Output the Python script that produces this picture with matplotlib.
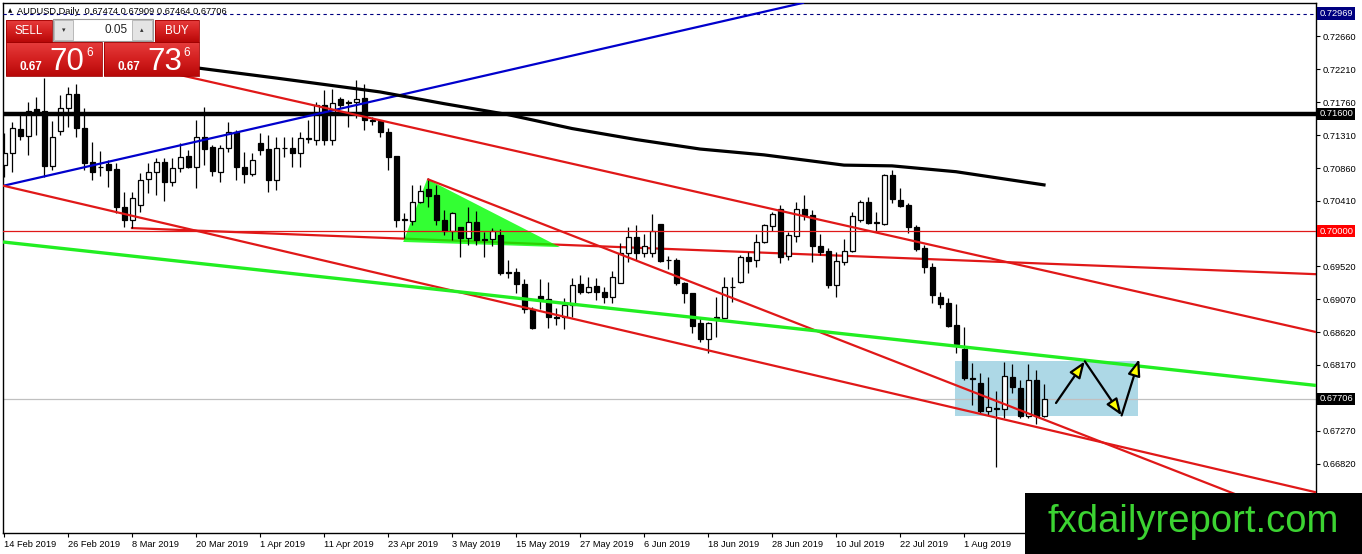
#AUDUSD daily chart with trend lines, recreated in matplotlib
import numpy as np
import matplotlib
matplotlib.use("Agg")
import matplotlib.pyplot as plt
from matplotlib.patches import Rectangle, Polygon
from matplotlib.colors import LinearSegmentedColormap
import matplotlib.transforms as mtransforms

#%%
# Daily candles, bar 0 = 14 Feb 2019
opens = [0.7090, 0.7107, 0.7139, 0.7130, 0.7167, 0.7164, 0.7089, 0.7137, 0.7168, 0.7187,
         0.7141, 0.7094, 0.7088, 0.7092, 0.7085, 0.7033, 0.7015, 0.7036, 0.7071, 0.7081,
         0.7094, 0.7067, 0.7086, 0.7103, 0.7088, 0.7129, 0.7115, 0.7081, 0.7113, 0.7135,
         0.7088, 0.7078, 0.7120, 0.7112, 0.7070, 0.7113, 0.7113, 0.7107, 0.7127, 0.7125,
         0.7172, 0.7125, 0.7181, 0.7176, 0.7176, 0.7182, 0.7151, 0.7150, 0.7135, 0.7103,
         0.7015, 0.7014, 0.7040, 0.7057, 0.7049, 0.7015, 0.7000, 0.7005, 0.6990, 0.7012,
         0.6989, 0.6989, 0.6995, 0.6944, 0.6944, 0.6927, 0.6893, 0.6911, 0.6907, 0.6882,
         0.6882, 0.6899, 0.6927, 0.6917, 0.6925, 0.6917, 0.6910, 0.6929, 0.6970, 0.6992,
         0.6970, 0.6970, 0.7010, 0.6961, 0.6961, 0.6929, 0.6915, 0.6874, 0.6852, 0.6881,
         0.6881, 0.6923, 0.6930, 0.6964, 0.6960, 0.6985, 0.7007, 0.7030, 0.6966, 0.6993,
         0.7030, 0.7022, 0.6980, 0.6973, 0.6926, 0.6958, 0.6973, 0.7015, 0.7040, 0.7011,
         0.7010, 0.7077, 0.7042, 0.7036, 0.7005, 0.6977, 0.6951, 0.6910, 0.6901, 0.6871,
         0.6839, 0.6799, 0.6793, 0.6754, 0.6758, 0.6757, 0.6800, 0.6785, 0.6747, 0.6797,
         0.67474]
highs = [0.7134, 0.7149, 0.7159, 0.7176, 0.7183, 0.7209, 0.7150, 0.7186, 0.7197, 0.7201,
         0.7168, 0.7122, 0.7109, 0.7097, 0.7093, 0.7053, 0.7053, 0.7079, 0.7093, 0.7100,
         0.7100, 0.7100, 0.7120, 0.7111, 0.7152, 0.7170, 0.7118, 0.7118, 0.7149, 0.7138,
         0.7108, 0.7107, 0.7134, 0.7131, 0.7129, 0.7129, 0.7129, 0.7135, 0.7152, 0.7176,
         0.7193, 0.7194, 0.7183, 0.7179, 0.7206, 0.7201, 0.7156, 0.7152, 0.7141, 0.7103,
         0.7025, 0.7063, 0.7063, 0.7073, 0.7063, 0.7029, 0.7026, 0.7005, 0.7033, 0.7027,
         0.6999, 0.7004, 0.7003, 0.6960, 0.6949, 0.6934, 0.6896, 0.6934, 0.6930, 0.6895,
         0.6908, 0.6936, 0.6940, 0.6937, 0.6936, 0.6923, 0.6946, 0.6984, 0.7005, 0.7008,
         0.6996, 0.7023, 0.7010, 0.6966, 0.6963, 0.6930, 0.6915, 0.6881, 0.6876, 0.6910,
         0.6937, 0.6937, 0.6967, 0.6971, 0.6996, 0.7010, 0.7026, 0.7036, 0.6999, 0.7040,
         0.7049, 0.7029, 0.6996, 0.6977, 0.6971, 0.6989, 0.7026, 0.7042, 0.7047, 0.7026,
         0.7078, 0.7083, 0.7059, 0.7038, 0.7008, 0.6981, 0.6956, 0.6917, 0.6908, 0.6900,
         0.6869, 0.6819, 0.6806, 0.6800, 0.6782, 0.6821, 0.6818, 0.6796, 0.6818, 0.6810,
         0.67909]
lows = [0.7074, 0.7081, 0.7125, 0.7104, 0.7131, 0.7074, 0.7083, 0.7131, 0.7142, 0.7129,
        0.7083, 0.7070, 0.7075, 0.7060, 0.7025, 0.7005, 0.7004, 0.7026, 0.7052, 0.7049,
        0.7041, 0.7062, 0.7081, 0.7086, 0.7059, 0.7090, 0.7075, 0.7067, 0.7108, 0.7070,
        0.7066, 0.7075, 0.7104, 0.7053, 0.7056, 0.7101, 0.7088, 0.7088, 0.7120, 0.7118,
        0.7118, 0.7118, 0.7168, 0.7142, 0.7155, 0.7138, 0.7145, 0.7129, 0.7083, 0.7005,
        0.6990, 0.7008, 0.7038, 0.7033, 0.7008, 0.6995, 0.6988, 0.6964, 0.6981, 0.6981,
        0.6964, 0.6979, 0.6940, 0.6936, 0.6915, 0.6888, 0.6866, 0.6893, 0.6867, 0.6871,
        0.6866, 0.6882, 0.6914, 0.6915, 0.6906, 0.6901, 0.6901, 0.6929, 0.6958, 0.6961,
        0.6964, 0.6964, 0.6958, 0.6948, 0.6926, 0.6901, 0.6860, 0.6849, 0.6833, 0.6855,
        0.6881, 0.6903, 0.6929, 0.6942, 0.6951, 0.6984, 0.7000, 0.6956, 0.6960, 0.6985,
        0.7015, 0.6958, 0.6967, 0.6922, 0.6910, 0.6953, 0.6971, 0.7012, 0.7010, 0.6999,
        0.7008, 0.7038, 0.7033, 0.6997, 0.6973, 0.6942, 0.6901, 0.6895, 0.6869, 0.6833,
        0.6796, 0.6762, 0.6752, 0.6748, 0.6677, 0.6745, 0.6778, 0.6745, 0.6745, 0.6737,
        0.67464]
closes = [0.7107, 0.7141, 0.7130, 0.7164, 0.7163, 0.7089, 0.7129, 0.7168, 0.7187, 0.7141,
          0.7093, 0.7081, 0.7087, 0.7083, 0.7033, 0.7015, 0.7045, 0.7070, 0.7081, 0.7094,
          0.7067, 0.7086, 0.7101, 0.7088, 0.7129, 0.7112, 0.7082, 0.7113, 0.7135, 0.7088,
          0.7078, 0.7097, 0.7111, 0.7070, 0.7113, 0.7114, 0.7107, 0.7127, 0.7126, 0.7172,
          0.7125, 0.7175, 0.7172, 0.7175, 0.7181, 0.7152, 0.7150, 0.7135, 0.7101, 0.7015,
          0.7016, 0.7040, 0.7055, 0.7048, 0.7015, 0.7000, 0.7025, 0.6990, 0.7012, 0.6988,
          0.6988, 0.7000, 0.6942, 0.6943, 0.6927, 0.6893, 0.6867, 0.6907, 0.6882, 0.6881,
          0.6899, 0.6926, 0.6917, 0.6923, 0.6917, 0.6910, 0.6937, 0.6970, 0.6992, 0.6970,
          0.6979, 0.7000, 0.6959, 0.6960, 0.6929, 0.6915, 0.6870, 0.6852, 0.6874, 0.6882,
          0.6923, 0.6924, 0.6964, 0.6959, 0.6985, 0.7008, 0.7023, 0.6964, 0.6995, 0.7030,
          0.7022, 0.6980, 0.6971, 0.6926, 0.6959, 0.6973, 0.7021, 0.7040, 0.7011, 0.7012,
          0.7077, 0.7044, 0.7034, 0.7005, 0.6976, 0.6951, 0.6912, 0.6900, 0.6870, 0.6845,
          0.6799, 0.6798, 0.6754, 0.6759, 0.6757, 0.6802, 0.6787, 0.6747, 0.6796, 0.6747,
          0.67706]

# moving average (read at some bars)
ma_bars = [18, 24, 34, 47, 55, 63, 71, 79, 87, 95, 105, 111, 119, 130]
ma_values = [0.7231, 0.7223, 0.7209, 0.7190, 0.7174, 0.7159, 0.7140, 0.7125, 0.7112,
             0.7104, 0.7090, 0.7089, 0.7081, 0.7063]

# date axis
date_bars = [0, 8, 16, 24, 32, 40, 48, 56, 64, 72, 80, 88, 96, 104, 112, 120]
date_labels = ['14 Feb 2019', '26 Feb 2019', '8 Mar 2019', '20 Mar 2019', '1 Apr 2019',
               '11 Apr 2019', '23 Apr 2019', '3 May 2019', '15 May 2019', '27 May 2019',
               '6 Jun 2019', '18 Jun 2019', '28 Jun 2019', '10 Jul 2019', '22 Jul 2019',
               '1 Aug 2019']

# price axis
price_ticks = [0.72660, 0.72210, 0.71760, 0.71310, 0.70860, 0.70410, 0.69520, 0.69070,
               0.68620, 0.68170, 0.67270, 0.66820, 0.66370]

# drawn objects: (bar, price) end points
blue_line = [(0, 0.7062), (100, 0.7312)]
red_upper = [(18, 0.7223), (164, 0.6862)]
red_lower = [(-0.125, 0.7062), (164, 0.6643)]
red_steep = [(52.9, 0.7071), (162, 0.6606)]
red_flat = [(16, 0.7004), (164, 0.6941)]
green_line = [(-0.125, 0.6985), (164, 0.6789)]
green_triangle = [(52.9, 0.7071), (49.9, 0.6985), (69.5, 0.6978)]
box_bars = (118.9, 141.75)
box_prices = (0.6747, 0.6822)
zigzag = [(131.5, 0.6765), (135.1, 0.6822), (139.7, 0.6748), (141.9, 0.6825)]

level_black = 0.71600
level_red = 0.70000
level_top = 0.72969
last_price = 0.67706

RED = '#e01818'
LIME = '#22ee22'

#%%
W, H = 1362, 554
fig = plt.figure(figsize=(W / 100, H / 100), dpi=100, facecolor='white')
plt.rcParams['font.family'] = ['Liberation Sans', 'DejaVu Sans']

ax = fig.add_axes([3 / W, 21 / H, 1313 / W, 530 / H])
ax.set_xlim(-0.125, 164)
ax.set_ylim(0.65874, 0.73115)
for s in ax.spines.values():
    s.set_color('black')
    s.set_linewidth(1)

# background objects
ax.add_patch(Rectangle((box_bars[0], box_prices[0]), box_bars[1] - box_bars[0],
                       box_prices[1] - box_prices[0], facecolor='#add8e6',
                       edgecolor='none', zorder=0.5))
ax.plot([p[0] for p in red_flat], [p[1] for p in red_flat], color=RED, lw=1.6, zorder=1)
ax.add_patch(Polygon(green_triangle, closed=True, facecolor='#00ff00', edgecolor='none',
                     alpha=0.8, zorder=1.5))

# candles
body_w = 0.625
for i in range(len(opens)):
    o, h, l, c = opens[i], highs[i], lows[i], closes[i]
    ax.plot([i, i], [l, h], color='black', lw=0.9, zorder=2, solid_capstyle='butt')
    fc = 'white' if c >= o else 'black'
    ax.add_patch(Rectangle((i - body_w / 2, min(o, c)), body_w, abs(c - o),
                           facecolor=fc, edgecolor='black', lw=0.9, zorder=2.1))

# price levels
ax.axhline(level_top, color='#000080', lw=0.8, ls=(0, (3, 3)), zorder=3)
ax.axhline(last_price, color='#c0c0c0', lw=0.9, zorder=1.2)
ax.axhline(level_red, color=RED, lw=0.9, zorder=3)
ax.axhline(level_black, color='black', lw=3.2, zorder=3)

# trend lines
for seg, col, lw in [(blue_line, '#0000cc', 1.6), (red_upper, RED, 1.6),
                     (red_lower, RED, 1.6), (red_steep, RED, 1.6), (green_line, LIME, 2.4)]:
    ax.plot([p[0] for p in seg], [p[1] for p in seg], color=col, lw=lw, zorder=3,
            solid_capstyle='butt')
ax.plot(ma_bars, ma_values, color='black', lw=2.3, zorder=3)

# projected path
for a, b in zip(zigzag[:-1], zigzag[1:]):
    ax.annotate('', xy=b, xytext=a, zorder=4,
                arrowprops=dict(arrowstyle='-|>,head_length=1.0,head_width=0.38',
                                mutation_scale=10, fc='#ffff00', ec='black', lw=1.6,
                                shrinkA=0, shrinkB=0))

# axes ticks
ax.yaxis.tick_right()
ax.set_yticks(price_ticks)
ax.set_yticklabels([f'{v:.5f}' for v in price_ticks])
ax.tick_params(axis='y', length=3, width=0.8, pad=2, labelsize=6.7, direction='out')
ax.set_xticks(date_bars)
ax.set_xticklabels(date_labels, ha='left')
ax.tick_params(axis='x', length=3, width=0.8, pad=2, labelsize=6.7, direction='out')

# price labels on the right
trans = mtransforms.blended_transform_factory(ax.transAxes, ax.transData)
for val, bg in [(level_top, '#000080'), (level_black, 'black'), (level_red, '#ff0000'),
                (last_price, 'black')]:
    ax.text(1.0025, val, f'{val:.5f}', transform=trans, ha='left', va='center',
            fontsize=6.7, color='white', zorder=6, clip_on=False,
            bbox=dict(boxstyle='square,pad=0.2', fc=bg, ec='none'))

#%%
# overlay in pixel coordinates: trade panel, header, logo
ov = fig.add_axes([0, 0, 1, 1], facecolor='none')
ov.axis('off')
ov.set_zorder(10)

ov.text(8, 11, '\u25b2', fontsize=4, va='center', ha='left', family='DejaVu Sans')
ov.text(17, 11, 'AUDUSD,Daily  0.67474 0.67909 0.67464 0.67706', fontsize=6.7,
        va='center', ha='left')

red_cmap = LinearSegmentedColormap.from_list('btn', ['#e63c3c', '#d42020', '#b80808'])
grad = np.linspace(0, 1, 64).reshape(-1, 1)


def red_box(x0, y0, x1, y1):
    ov.imshow(grad, cmap=red_cmap, extent=(x0, x1, y1, y0), aspect='auto',
              origin='upper', zorder=1)
    ov.add_patch(Rectangle((x0, y0), x1 - x0, y1 - y0, facecolor='none',
                           edgecolor='#a00000', lw=0.6, zorder=2))


red_box(6, 20, 52, 42)
red_box(155, 20, 199, 42)
red_box(6, 42, 102, 76)
red_box(104, 42, 199, 76)

# lot size control
ov.add_patch(Rectangle((53, 19), 100, 22, facecolor='white', edgecolor='#9a9a9a', lw=0.8, zorder=2))
ov.add_patch(Rectangle((54, 20), 19, 20, facecolor='#e4e4e4', edgecolor='#b0b0b0', lw=0.6, zorder=3))
ov.add_patch(Rectangle((132, 20), 20, 20, facecolor='#e4e4e4', edgecolor='#b0b0b0', lw=0.6, zorder=3))
ov.text(63.5, 30, '\u25be', fontsize=5, ha='center', va='center', color='#333333',
        family='DejaVu Sans', zorder=4)
ov.text(142, 30, '\u25b4', fontsize=5, ha='center', va='center', color='#333333',
        family='DejaVu Sans', zorder=4)
ov.text(128, 30, '0.05', fontsize=8.5, ha='right', va='center', color='#222222', zorder=4)

ov.text(29, 31, 'SELL', fontsize=8.3, ha='center', va='center', color='white', zorder=4)
ov.text(177, 31, 'BUY', fontsize=8.3, ha='center', va='center', color='white', zorder=4)
for x_small, x_big, x_sup, big in [(20, 49, 86, '70'), (117, 147, 183, '73')]:
    ov.text(x_small, 70, '0.67', fontsize=8.5, fontweight='bold', ha='left',
            va='baseline', color='white', zorder=4)
    ov.text(x_big, 70, big, fontsize=22.5, ha='left', va='baseline', color='white', zorder=4)
    ov.text(x_sup, 56, '6', fontsize=8.5, ha='left', va='baseline', color='white', zorder=4)

# logo
ov.add_patch(Rectangle((1025, 493), 337, 61, facecolor='black', edgecolor='none', zorder=5))
ov.text(1193, 522, 'fxdailyreport.com', fontsize=27.5, ha='center', va='center',
        color='#3cd332', zorder=6)

ov.set_xlim(0, W)
ov.set_ylim(H, 0)

fig.savefig('out.png', dpi=100, facecolor='white')
